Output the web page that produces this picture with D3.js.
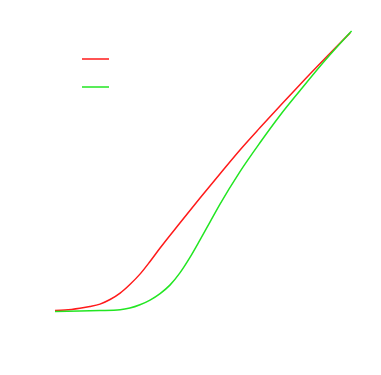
<!DOCTYPE html>
<html>
<head>
<meta charset="utf-8">
<script src="https://cdn.jsdelivr.net/npm/d3@7"></script>
<style>
  body { margin: 0; background: #fff; }
</style>
</head>
<body>
<div id="chart"></div>
<script>
// valores
var redX = [-5.00, -4.66, -4.16, -3.82, -3.48, -3.14, -2.80, -2.47, -2.13, -1.79, -1.45, -0.78, -0.10, 0.57, 1.25, 1.93, 2.60, 3.28, 4.12, 4.97];
var redY = [0.018, 0.025, 0.057, 0.088, 0.133, 0.215, 0.330, 0.485, 0.671, 0.898, 1.140, 1.589, 2.038, 2.469, 2.900, 3.302, 3.689, 4.077, 4.542, 5.002];

var greenX = [-5.00, -4.16, -3.48, -2.80, -2.47, -2.13, -1.79, -1.45, -1.11, -0.78, -0.44, -0.10, 0.24, 0.57, 1.25, 1.93, 2.60, 3.28, 4.12, 5.02];
var greenY = [0.000, 0.007, 0.016, 0.031, 0.061, 0.120, 0.205, 0.321, 0.478, 0.693, 0.971, 1.285, 1.609, 1.923, 2.512, 3.034, 3.519, 3.968, 4.506, 5.036];

var seriesNames = ["red", "green"];
var seriesColors = ["#ff1a1a", "#22e622"];

var width = 381, height = 375;

var svg = d3.select("#chart")
            .append("svg")
            .attr("width", width)
            .attr("height", height);

var xScale = d3.scaleLinear()
               .domain([-5, 5])
               .range([55, 351]);

var yScale = d3.scaleLinear()
               .domain([0, 5])
               .range([311.5, 33]);

var line = d3.line()
             .x(function(d) { return xScale(d[0]); })
             .y(function(d) { return yScale(d[1]); })
             .curve(d3.curveMonotoneX);

var series = [
    d3.zip(redX, redY),
    d3.zip(greenX, greenY)
];

svg.selectAll("path.curve")
   .data(series)
   .enter()
   .append("path")
   .attr("class", "curve")
   .attr("d", line)
   .attr("fill", "none")
   .attr("stroke", function(d, i) { return seriesColors[i]; })
   .attr("stroke-width", 1.5);

// legenda (sem texto)
var legend = svg.selectAll("g.legend")
   .data(seriesNames)
   .enter()
   .append("g")
   .attr("class", "legend")
   .attr("transform", function(d, i) { return "translate(82," + (59 + i * 28) + ")"; });

legend.append("line")
      .attr("x1", 0)
      .attr("x2", 27)
      .attr("y1", 0)
      .attr("y2", 0)
      .attr("stroke", function(d, i) { return seriesColors[i]; })
      .attr("stroke-width", 1.5);
</script>
</body>
</html>
